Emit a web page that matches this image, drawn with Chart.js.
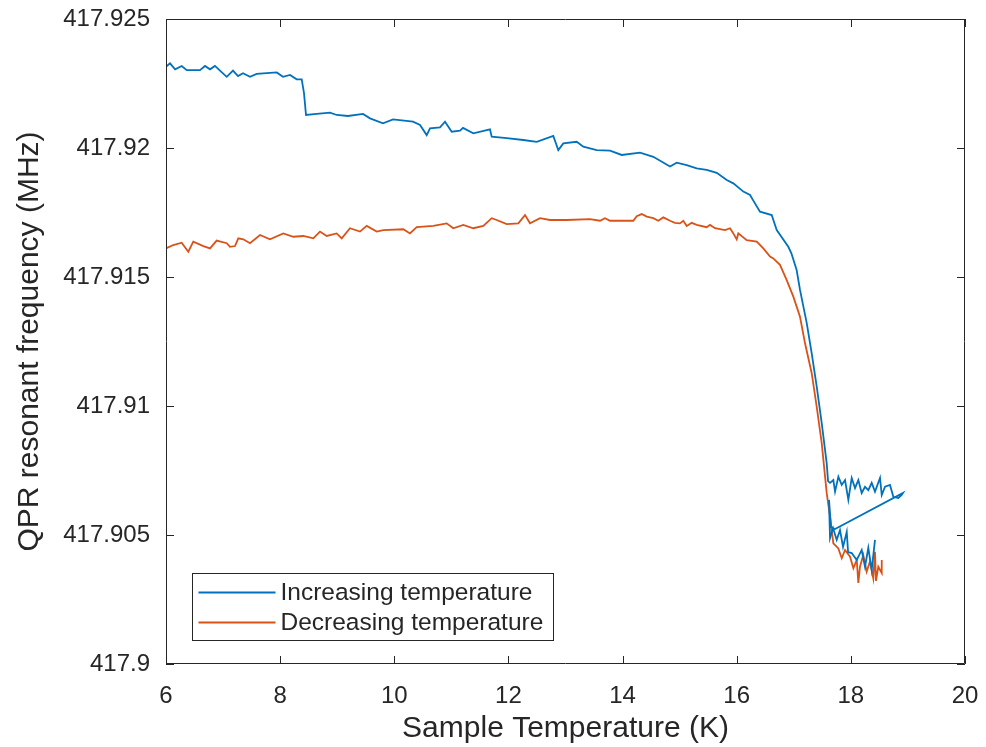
<!DOCTYPE html>
<html>
<head>
<meta charset="utf-8">
<script src="https://cdn.jsdelivr.net/npm/chart.js@4/dist/chart.umd.min.js"></script>
<style>
  html, body { margin: 0; padding: 0; background: #ffffff; }
  #wrap { width: 986px; height: 747px; position: relative; }
</style>
</head>
<body>
<div id="wrap"><canvas id="c" width="986" height="747"></canvas></div>
<script>
// ---- data ----
const seriesLabels = ['Increasing temperature', 'Decreasing temperature'];

const incT = [6.00, 6.07, 6.16, 6.275, 6.363, 6.596, 6.683, 6.771, 6.858, 6.946, 7.064, 7.174, 7.262, 7.349, 7.472, 7.589, 7.940, 8.050, 8.173, 8.290, 8.378, 8.418, 8.453, 8.641, 8.874, 8.991, 9.189, 9.452, 9.575, 9.802, 9.978, 10.328, 10.451, 10.568, 10.626, 10.801, 10.889, 11.006, 11.152, 11.204, 11.385, 11.677, 11.707, 11.970, 12.261, 12.496, 12.786, 12.874, 12.962, 13.196, 13.312, 13.547, 13.780, 13.985, 14.306, 14.539, 14.831, 14.949, 15.124, 15.299, 15.474, 15.650, 15.825, 15.941, 16.116, 16.233, 16.286, 16.408, 16.613, 16.701, 16.904, 16.958, 17.050, 17.109, 17.227, 17.314, 17.402, 17.490, 17.577, 17.600,
  17.635, 17.693, 17.723, 17.781, 17.840, 17.898, 17.956, 18.015, 18.073, 18.131, 18.190, 18.248, 18.306, 18.365, 18.423, 18.511, 18.541, 18.599, 18.686, 18.744, 18.832, 18.891, 18.914,
  17.723, 17.652, 17.617, 17.635, 17.688, 17.752, 17.810, 17.863, 17.928, 17.951, 18.015, 18.103, 18.190, 18.248, 18.306, 18.365, 18.423];
const incF = [417.92315, 417.92328, 417.92305, 417.92318, 417.92302, 417.92302, 417.92318, 417.92305, 417.92318, 417.92300, 417.92276, 417.92300, 417.92279, 417.92290, 417.92276, 417.92287, 417.92293, 417.92276, 417.92283, 417.92266, 417.92266, 417.92213, 417.92128, 417.92132, 417.92137, 417.92128, 417.92124, 417.92132, 417.92115, 417.92096, 417.92111, 417.92102, 417.92089, 417.92050, 417.92076, 417.92080, 417.92102, 417.92063, 417.92067, 417.92078, 417.92057, 417.92072, 417.92044, 417.92038, 417.92031, 417.92024, 417.92047, 417.91992, 417.92018, 417.92024, 417.92005, 417.91992, 417.91990, 417.91973, 417.91982, 417.91966, 417.91928, 417.91943, 417.91934, 417.91921, 417.91915, 417.91904, 417.91876, 417.91863, 417.91831, 417.91818, 417.91798, 417.91753, 417.91740, 417.91682, 417.91617, 417.91592, 417.91527, 417.91450, 417.91321, 417.91204, 417.91075, 417.90933, 417.90778, 417.90709,
  417.90702, 417.90713, 417.90668, 417.90726, 417.90694, 417.90713, 417.90636, 417.90721, 417.90682, 417.90713, 417.90663, 417.90687, 417.90674, 417.90702, 417.90668, 417.90721, 417.90655, 417.90687, 417.90694, 417.90648, 417.90643, 417.90655, 417.90663,
  417.90523, 417.90531, 417.90636, 417.90488, 417.90527, 417.90481, 417.90519, 417.90454, 417.90512, 417.90434, 417.90430, 417.90403, 417.90442, 417.90377, 417.90450, 417.90364, 417.90481];

const decT = [6.00, 6.128, 6.275, 6.391, 6.478, 6.654, 6.771, 6.888, 7.064, 7.121, 7.209, 7.267, 7.354, 7.472, 7.647, 7.822, 8.055, 8.231, 8.406, 8.581, 8.698, 8.816, 8.991, 9.079, 9.224, 9.399, 9.517, 9.692, 9.808, 10.158, 10.275, 10.393, 10.684, 10.918, 11.034, 11.209, 11.385, 11.560, 11.707, 11.795, 11.970, 12.173, 12.291, 12.378, 12.553, 12.729, 13.021, 13.429,
  13.605, 13.692, 13.780, 14.188, 14.248, 14.335, 14.423, 14.539, 14.626, 14.714, 14.831, 14.918, 15.006, 15.064, 15.124, 15.212, 15.299, 15.474, 15.532, 15.620, 15.795, 15.883, 15.941, 16.000, 16.028, 16.175, 16.351, 16.466, 16.584, 16.641, 16.758, 16.876,
  16.992, 17.109, 17.197, 17.314, 17.402, 17.490, 17.548, 17.577, 17.635, 17.693, 17.781, 17.840, 17.898, 17.986, 18.044, 18.103, 18.131, 18.160, 18.218, 18.277, 18.335, 18.393, 18.423, 18.440, 18.481, 18.541, 18.541];
const decF = [417.91611, 417.91624, 417.91633, 417.91598, 417.91637, 417.91620, 417.91611, 417.91641, 417.91631, 417.91617, 417.91620, 417.91650, 417.91646, 417.91631, 417.91663, 417.91646, 417.91669, 417.91656, 417.91659, 417.91650, 417.91676, 417.91659, 417.91669, 417.91650, 417.91689, 417.91676, 417.91698, 417.91676, 417.91682, 417.91685, 417.91669, 417.91693, 417.91698, 417.91708, 417.91689, 417.91702, 417.91689, 417.91698, 417.91728, 417.91721, 417.91705, 417.91708, 417.91740, 417.91708, 417.91728, 417.91721, 417.91721, 417.91724,
  417.91718, 417.91728, 417.91718, 417.91718, 417.91736, 417.91744, 417.91734, 417.91728, 417.91718, 417.91731, 417.91718, 417.91710, 417.91708, 417.91718, 417.91698, 417.91710, 417.91702, 417.91693, 417.91702, 417.91689, 417.91682, 417.91689, 417.91669, 417.91646, 417.91669, 417.91643, 417.91637, 417.91611, 417.91579, 417.91572, 417.91547, 417.91488,
  417.91424, 417.91346, 417.91243, 417.91127, 417.90997, 417.90855, 417.90726, 417.90662, 417.90571, 417.90468, 417.90448, 417.90410, 417.90442, 417.90416, 417.90371, 417.90403, 417.90314, 417.90377, 417.90422, 417.90358, 417.90397, 417.90332, 417.90435, 417.90322, 417.90377, 417.90353, 417.90403];

const xTickValues = [6, 8, 10, 12, 14, 16, 18, 20];
const yTickValues = [417.9, 417.905, 417.91, 417.915, 417.92, 417.925];
const yTickLabels = ['417.9', '417.905', '417.91', '417.915', '417.92', '417.925'];
const xTitle = 'Sample Temperature (K)';
const yTitle = 'QPR resonant frequency (MHz)';

// ---- styles ----
const FONT = "'Liberation Sans', Arial, Helvetica, sans-serif";
const INK = '#262626';
const colors = ['#0072BD', '#D95319'];

function toPoints(xs, ys) { return xs.map((x, i) => ({ x: x, y: ys[i] })); }

const boxPlugin = {
  id: 'matlabBox',
  afterDatasetsDraw(chart) {
    const { ctx, chartArea: ca, scales } = chart;
    const xs = scales.x, ys = scales.y;
    ctx.save();
    ctx.strokeStyle = INK;
    ctx.lineWidth = 1;
    ctx.beginPath();
    ctx.rect(Math.round(ca.left) + 0.5, Math.round(ca.top) + 0.5,
             Math.round(ca.right - ca.left) - 1, Math.round(ca.bottom - ca.top) - 1);
    ctx.stroke();
    const TL = 8;
    ctx.beginPath();
    xs.ticks.forEach(t => {
      const px = Math.round(xs.getPixelForValue(t.value)) + 0.5;
      ctx.moveTo(px, ca.bottom); ctx.lineTo(px, ca.bottom - TL);
      ctx.moveTo(px, ca.top); ctx.lineTo(px, ca.top + TL);
    });
    ys.ticks.forEach(t => {
      const py = Math.round(ys.getPixelForValue(t.value)) + 0.5;
      ctx.moveTo(ca.left, py); ctx.lineTo(ca.left + TL, py);
      ctx.moveTo(ca.right, py); ctx.lineTo(ca.right - TL, py);
    });
    ctx.stroke();

    // legend box inside the plot area (lower left)
    const lx = Math.round(ca.left + 26) + 0.5, ly = Math.round(ca.bottom - 91) + 0.5;
    const lw = 361, lh = 67;
    ctx.fillStyle = '#ffffff';
    ctx.fillRect(lx, ly, lw, lh);
    ctx.strokeStyle = INK;
    ctx.strokeRect(lx, ly, lw, lh);
    ctx.font = '24.5px ' + FONT;
    ctx.textBaseline = 'middle';
    ctx.textAlign = 'left';
    chart.data.datasets.forEach((ds, i) => {
      const ry = ly + 19 + i * 30;
      ctx.strokeStyle = ds.borderColor;
      ctx.lineWidth = 1.8;
      ctx.beginPath();
      ctx.moveTo(lx + 6, ry); ctx.lineTo(lx + 83, ry);
      ctx.stroke();
      ctx.fillStyle = INK;
      ctx.fillText(ds.label, lx + 88, ry + 1);
    });
    ctx.restore();
  }
};

new Chart(document.getElementById('c'), {
  type: 'line',
  data: {
    datasets: [
      { label: seriesLabels[0], data: toPoints(incT, incF), borderColor: colors[0], backgroundColor: colors[0],
        borderWidth: 1.8, pointRadius: 0, tension: 0, fill: false },
      { label: seriesLabels[1], data: toPoints(decT, decF), borderColor: colors[1], backgroundColor: colors[1],
        borderWidth: 1.8, pointRadius: 0, tension: 0, fill: false }
    ]
  },
  options: {
    responsive: false,
    animation: false,
    devicePixelRatio: 1,
    layout: { padding: { left: 0, top: 19, right: 21, bottom: 0 } },
    plugins: { legend: { display: false }, tooltip: { enabled: false } },
    scales: {
      x: {
        type: 'linear', min: 6, max: 20,
        afterBuildTicks: s => { s.ticks = xTickValues.map(v => ({ value: v })); },
        afterFit: s => { s.height = 83; s.paddingLeft = 0; s.paddingRight = 0; },
        grid: { display: false, drawTicks: false },
        border: { display: false },
        ticks: { color: INK, font: { family: FONT, size: 24 }, padding: 18, maxRotation: 0,
                 callback: v => String(v) },
        title: { display: true, text: xTitle, color: INK, font: { family: FONT, size: 30, lineHeight: 1.2 },
                 padding: { top: 0, bottom: 0 } }
      },
      y: {
        type: 'linear', min: 417.9, max: 417.925,
        afterBuildTicks: s => { s.ticks = yTickValues.map(v => ({ value: v })); },
        afterFit: s => { s.width = 166; s.paddingTop = 0; s.paddingBottom = 0; },
        grid: { display: false, drawTicks: false },
        border: { display: false },
        ticks: { color: INK, font: { family: FONT, size: 24 }, padding: 16,
                 callback: (v, i) => yTickLabels[i] },
        title: { display: true, text: yTitle, color: INK, font: { family: FONT, size: 30, lineHeight: 1.2 },
                 padding: { top: 12, bottom: 0 } }
      }
    }
  },
  plugins: [boxPlugin]
});
</script>
</body>
</html>
